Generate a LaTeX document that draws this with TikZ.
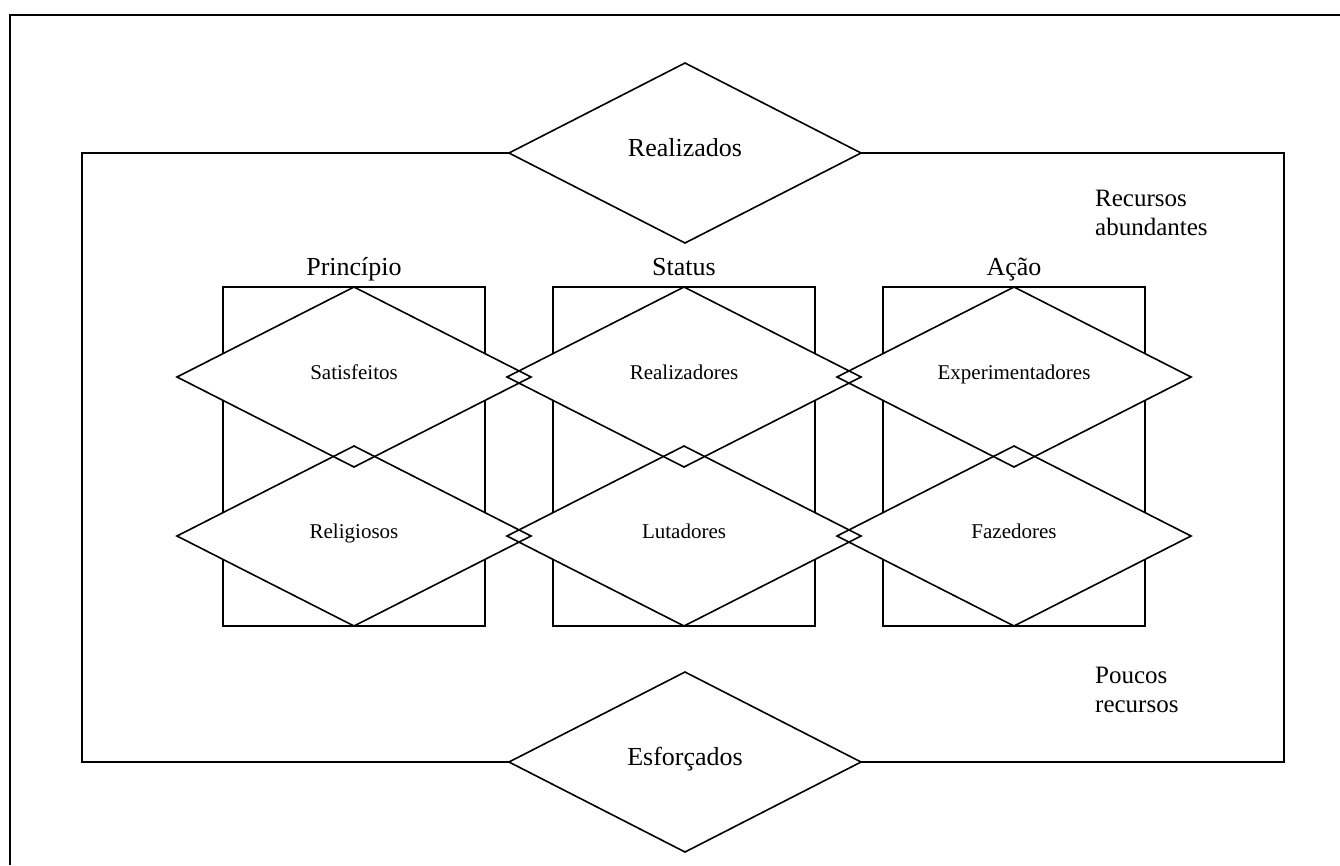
\documentclass[tikz,border=0pt]{standalone}
\usepackage{fontspec}
\setmainfont{Liberation Serif}
\usetikzlibrary{shapes.geometric}
\begin{document}
\begin{tikzpicture}
[x=1pt,y=-1pt,
  bigdiamond/.style={shape=diamond,minimum width=352pt,minimum height=180pt,
    inner sep=0pt,outer sep=0pt,fill=white,text height=0.8em,text depth=0.1em,
    font=\fontsize{26}{30}\selectfont},
  smalldiamond/.style={bigdiamond,minimum width=354pt,text height=0.7em,text depth=0.2em,
    font=\fontsize{21}{25}\selectfont},
  groupbox/.style={draw,line width=1.6pt,minimum width=262pt,minimum height=339pt,
    inner sep=0pt,outer sep=0pt},
  titletext/.style={anchor=base,yshift=12pt,font=\fontsize{26}{30}\selectfont},
  cornertext/.style={anchor=west,align=left,inner sep=0pt,font=\fontsize{25}{29}\selectfont},
  linedecorate/.style={line width=1.6pt,line join=miter}]
\useasboundingbox (0,0) rectangle (1340,865);
%% frame
\draw[linedecorate] (10,865) -- (10,15) -- (1340,15);
%% group boxes and their titles
\foreach \boxname/\x/\title in {prin/354/Princípio, stat/684/Status, acao/1014/Ação} {
  \node (\boxname) at (\x,456.5) [groupbox] {};
  \node [titletext] at (\boxname.north) {\title};
}
%% diamonds (filled first, outlined afterwards)
\foreach \nodename/\x/\y/\kind/\text in {real/685/153/bigdiamond/Realizados,
  esf/685/762/bigdiamond/Esforçados, sat/354/377/smalldiamond/Satisfeitos,
  rel/354/536/smalldiamond/Religiosos, rea/684/377/smalldiamond/Realizadores,
  lut/684/536/smalldiamond/Lutadores, exp/1014/377/smalldiamond/Experimentadores,
  faz/1014/536/smalldiamond/Fazedores} {
  \node (\nodename) at (\x,\y) [\kind] {\text};
}
\foreach \nodename in {real,esf,sat,rel,rea,lut,exp,faz} {
  \draw[linedecorate] (\nodename.north) -- (\nodename.east) -- (\nodename.south)
    -- (\nodename.west) -- cycle;
}
%% resources frame
\draw[linedecorate] (real.west) -| (82,762) -- (esf.west);
\draw[linedecorate] (real.east) -| (1284,762) -- (esf.east);
\node (rich) at (1095,213) [cornertext] {Recursos\\abundantes};
\node (poor) at (1095,690) [cornertext] {Poucos\\recursos};
\end{tikzpicture}
\end{document}
